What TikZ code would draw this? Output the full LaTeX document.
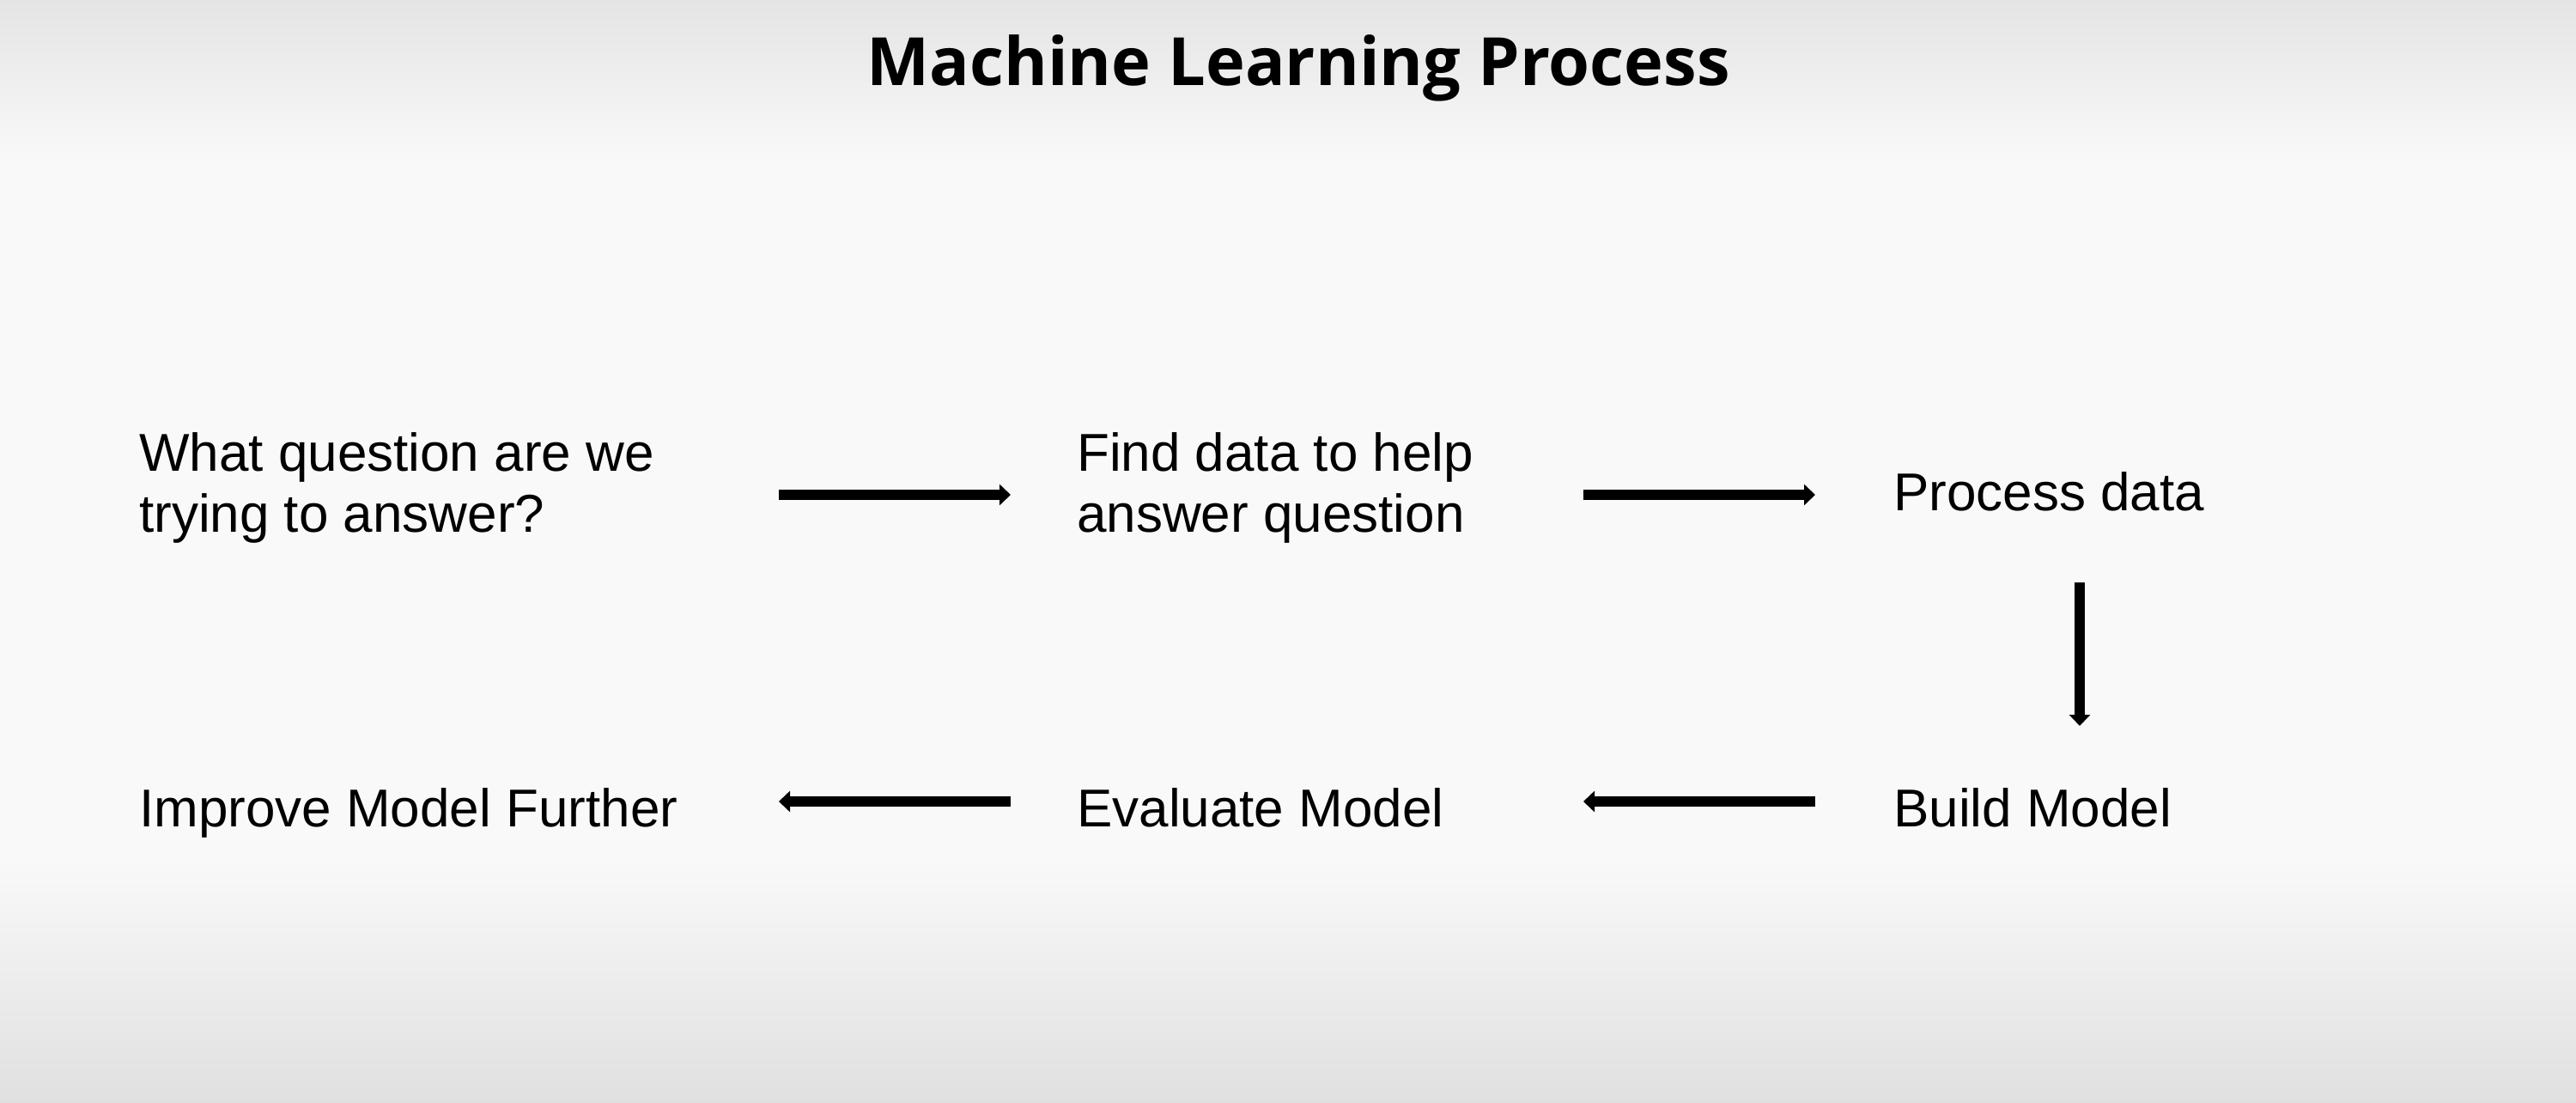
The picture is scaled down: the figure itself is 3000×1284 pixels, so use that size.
\documentclass[tikz,border=0pt]{standalone}
\usepackage{fontspec}
\setmainfont{Liberation Sans}
\newfontfamily\titlefont{Open Sans}[BoldFont={* Bold}]
\usetikzlibrary{arrows.meta}
\definecolor{bgmid}{HTML}{F9F9F9}
\definecolor{bgtop}{HTML}{E4E4E4}
\definecolor{bgbot}{HTML}{E0E0E0}
\tikzset{
  steptext/.style={anchor=base west, inner sep=0pt, align=left,
    font=\fontsize{62}{71}\selectfont, text=black},
  flowarrow/.style={line width=12pt, -{Triangle[width=24pt,length=13pt]}},
}
\begin{document}
\begin{tikzpicture}[x=1pt,y=-1pt]
\useasboundingbox (0,0) rectangle (3000,1284);
% background
\fill[bgmid] (0,0) rectangle (3000,1284);
\shade[top color=bgtop, bottom color=bgmid] (0,0) rectangle (3000,190);
\shade[top color=bgmid, bottom color=bgbot] (0,1000) rectangle (3000,1284);
% title
\node[anchor=base, inner sep=0pt, font=\titlefont\bfseries\fontsize{77.5}{86}\selectfont] (title) at (1512,100) {Machine Learning Process};
% steps (multi-line nodes: base = last line)
\node[steptext] (q) at (162,619) {What question are we\\trying to answer?};
\node[steptext] (find) at (1254,619) {Find data to help\\answer question};
\node[steptext] (proc) at (2205,594) {Process data};
\node[steptext] (build) at (2205,962) {Build Model};
\node[steptext] (eval) at (1254,962) {Evaluate Model};
\node[steptext] (impr) at (162,962) {Improve Model Further};
% arrow end points
\coordinate (a1s) at (907,576);  \coordinate (a1e) at (1177,576);
\coordinate (a2s) at (1844,576); \coordinate (a2e) at (2114,576);
\coordinate (a3s) at (2422,678); \coordinate (a3e) at (2422,845);
\coordinate (a4s) at (2114,933); \coordinate (a4e) at (1844,933);
\coordinate (a5s) at (1177,933); \coordinate (a5e) at (907,933);
\draw[flowarrow] (a1s) -- (a1e);
\draw[flowarrow] (a2s) -- (a2e);
\draw[flowarrow] (a3s) -- (a3e);
\draw[flowarrow] (a4s) -- (a4e);
\draw[flowarrow] (a5s) -- (a5e);
\end{tikzpicture}
\end{document}
